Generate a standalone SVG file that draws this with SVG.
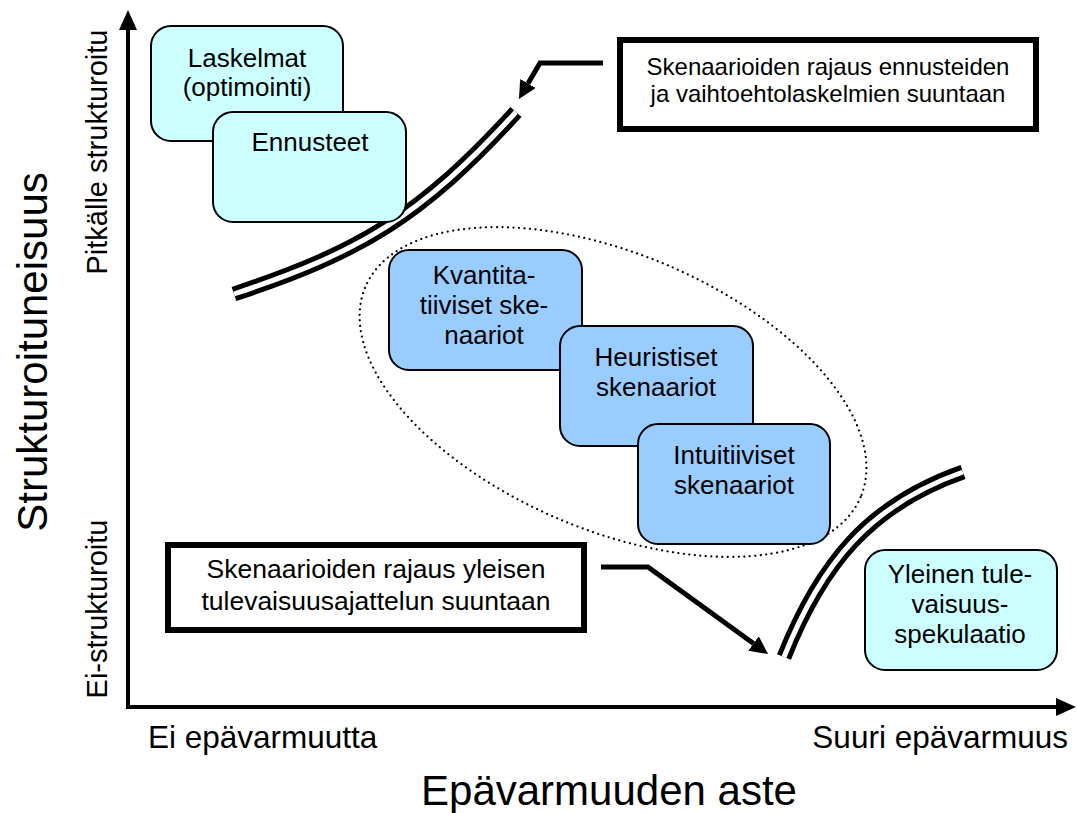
<svg xmlns="http://www.w3.org/2000/svg" width="1077" height="813" viewBox="0 0 1077 813">
  <defs>
    <style>
      text { font-family: "Liberation Sans", Arial, sans-serif; fill: #000; }
      .box { stroke: #000; stroke-width: 2; }
      .light { fill: #ccffff; }
      .blue { fill: #99ccff; }
      .bt { font-size: 26px; text-anchor: middle; }
      .note { fill: #fff; stroke: #000; stroke-width: 6; }
      .nt { font-size: 24px; text-anchor: middle; }
      .nt2 { font-size: 26.5px; text-anchor: middle; }
      .axis { fill: none; stroke: #000; stroke-width: 4; stroke-linejoin: miter; }
      .axlbl { font-size: 29px; }
      .axend { font-size: 31.5px; }
      .title { font-size: 42px; text-anchor: middle; }
      .rail-o { fill: none; stroke: #000; stroke-width: 15; }
      .rail-i { fill: none; stroke: #fff; stroke-width: 5; }
      .lead { fill: none; stroke: #000; stroke-width: 5; stroke-linejoin: miter; }
    </style>
    <marker id="axhead" viewBox="0 0 20 18" refX="0" refY="9" markerWidth="20" markerHeight="18" markerUnits="userSpaceOnUse" orient="auto-start-reverse">
      <path d="M0,0 L20,9 L0,18 Z" fill="#000"/>
    </marker>
    <marker id="head" viewBox="0 0 18 18" refX="0" refY="9" markerWidth="18" markerHeight="18" markerUnits="userSpaceOnUse" orient="auto">
      <path d="M0,0 L18,9 L0,18 Z" fill="#000"/>
    </marker>
  </defs>

  <!-- axes and their labels -->
  <g id="axes">
    <path class="axis" d="M128,30 L128,707 L1056,707" marker-start="url(#axhead)" marker-end="url(#axhead)"/>
    <text class="axend" x="148" y="748">Ei epävarmuutta</text>
    <text class="axend" x="1068" y="748" text-anchor="end">Suuri epävarmuus</text>
    <text class="title" x="609" y="805">Epävarmuuden aste</text>
    <text class="title" transform="translate(47,352) rotate(-90)">Strukturoituneisuus</text>
    <text class="axlbl" transform="translate(107,152) rotate(-90)" text-anchor="middle">Pitkälle strukturoitu</text>
    <text class="axlbl" transform="translate(107,609) rotate(-90)" text-anchor="middle">Ei-strukturoitu</text>
  </g>

  <!-- dotted scenario region -->
  <g id="scenario-region">
    <ellipse cx="613" cy="392" rx="269" ry="138" transform="rotate(23 613 392)" fill="none" stroke="#000" stroke-width="2.2" stroke-dasharray="0 5.5" stroke-linecap="round"/>
  </g>

  <!-- boundary rails and pointer arrows -->
  <g id="connectors">
    <path class="rail-o" d="M234,294 C360,252 420,217 516,112"/>
    <path class="rail-i" d="M234,294 C360,252 420,217 516,112"/>
    <path class="rail-o" d="M784,657 C821,564 869,505 963,472"/>
    <path class="rail-i" d="M784,657 C821,564 869,505 963,472"/>
    <path class="lead" d="M603,63 L540,63 L528,83.5" marker-end="url(#head)"/>
    <path class="lead" d="M601,567 L648,567 L753.5,643.5" marker-end="url(#head)"/>
  </g>

  <g id="laskelmat">
    <rect class="box light" x="151" y="26" width="192" height="115" rx="20"/>
    <text class="bt" x="247" y="67">Laskelmat</text>
    <text class="bt" x="247" y="96">(optimointi)</text>
  </g>

  <g id="ennusteet">
    <rect class="box light" x="213" y="112" width="193" height="110" rx="20"/>
    <text class="bt" x="310" y="151">Ennusteet</text>
  </g>

  <g id="kvantitatiiviset">
    <rect class="box blue" x="389" y="250" width="193" height="120" rx="20"/>
    <text class="bt" x="484" y="284">Kvantita-</text>
    <text class="bt" x="484" y="314">tiiviset ske-</text>
    <text class="bt" x="484" y="344">naariot</text>
  </g>

  <g id="heuristiset">
    <rect class="box blue" x="560" y="326" width="193" height="120" rx="20"/>
    <text class="bt" x="656" y="366">Heuristiset</text>
    <text class="bt" x="656" y="396">skenaariot</text>
  </g>

  <g id="intuitiiviset">
    <rect class="box blue" x="638" y="424" width="192" height="120" rx="20"/>
    <text class="bt" x="734" y="464">Intuitiiviset</text>
    <text class="bt" x="734" y="494">skenaariot</text>
  </g>

  <g id="yleinen">
    <rect class="box light" x="865" y="550" width="192" height="120" rx="20"/>
    <text class="bt" x="960" y="583">Yleinen tule-</text>
    <text class="bt" x="960" y="613">vaisuus-</text>
    <text class="bt" x="960" y="643">spekulaatio</text>
  </g>

  <g id="note-ennusteet">
    <rect class="note" x="620" y="40" width="416" height="89"/>
    <text class="nt" x="828" y="75">Skenaarioiden rajaus ennusteiden</text>
    <text class="nt" x="828" y="102">ja vaihtoehtolaskelmien suuntaan</text>
  </g>

  <g id="note-yleinen">
    <rect class="note" x="168" y="545" width="416" height="85"/>
    <text class="nt2" x="376" y="578">Skenaarioiden rajaus yleisen</text>
    <text class="nt2" x="376" y="610">tulevaisuusajattelun suuntaan</text>
  </g>
</svg>
